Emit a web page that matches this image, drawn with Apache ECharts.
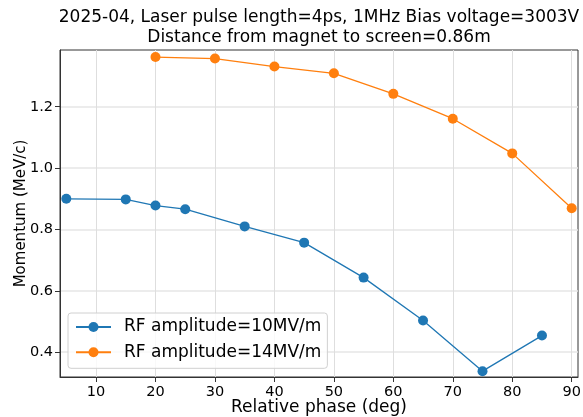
<!DOCTYPE html>
<html>
<head>
<meta charset="utf-8">
<script src="https://cdn.jsdelivr.net/npm/echarts@6/dist/echarts.min.js"></script>
<style>
  html, body {margin: 0; padding: 0; background: #fff;}
  #chart {width: 583px; height: 417px;}
</style>
</head>
<body>
<div id="chart"></div>
<script>
const phase10 = [5, 15, 20, 25, 35, 45, 55, 65, 75, 85]
const momentum10 = [0.900, 0.898, 0.878, 0.866, 0.810, 0.757, 0.643, 0.503, 0.338, 0.454]
const phase14 = [20, 30, 40, 50, 60, 70, 80, 90]
const momentum14 = [1.362, 1.357, 1.331, 1.309, 1.242, 1.161, 1.048, 0.869]
const xTicks = [10, 20, 30, 40, 50, 60, 70, 80, 90]
const yTicks = [0.4, 0.6, 0.8, 1.0, 1.2]

const font = 'DejaVu Sans'
const zip = (xs, ys) => xs.map((x, i) => [x, ys[i]])

const chart = echarts.init(document.getElementById('chart'))
chart.setOption({
  backgroundColor: '#fff',
  animation: false,
  title: {
    text: '2025-04, Laser pulse length=4ps, 1MHz Bias voltage=3003V\nDistance from magnet to screen=0.86m',
    left: 319,
    top: 8,
    textAlign: 'center',
    padding: 0,
    textStyle: {fontFamily: font, fontSize: 17, fontWeight: 'normal', color: '#000', lineHeight: 20}
  },
  grid: {
    left: 60, right: 5, top: 50, bottom: 40,
    outerBoundsMode: 'none',
    containLabel: false,
    show: true, borderColor: '#333', borderWidth: 1
  },
  legend: {
    orient: 'vertical',
    left: 68,
    top: 313,
    padding: [5.5, 6, 7.5, 7],
    itemWidth: 35,
    itemHeight: 12.5,
    itemGap: 8.3,
    backgroundColor: 'rgba(255,255,255,0.8)',
    borderColor: '#d0d0d0',
    borderWidth: 1,
    borderRadius: 3,
    textStyle: {fontFamily: font, fontSize: 17, color: '#000', lineHeight: 17, padding: [0, 0, 0, 8]}
  },
  xAxis: {
    type: 'value',
    min: 3.94,
    max: 91.06,
    name: 'Relative phase (deg)',
    nameLocation: 'middle',
    nameGap: 22,
    nameMoveOverlap: false,
    nameTextStyle: {fontFamily: font, fontSize: 17, color: '#000'},
    axisLine: {show: true, lineStyle: {color: '#333', width: 1}},
    axisTick: {show: true, inside: false, length: 5, customValues: xTicks, lineStyle: {color: '#333'}},
    axisLabel: {customValues: xTicks, margin: 8, fontFamily: font, fontSize: 14.5, color: '#000'},
    splitLine: {show: true, lineStyle: {color: '#dedede', width: 1}}
  },
  yAxis: {
    type: 'value',
    min: 0.319,
    max: 1.385,
    name: 'Momentum (MeV/c)',
    nameLocation: 'middle',
    nameGap: 31,
    nameMoveOverlap: false,
    nameTextStyle: {fontFamily: font, fontSize: 15, color: '#000'},
    axisLine: {show: true, lineStyle: {color: '#333', width: 1}},
    axisTick: {show: true, inside: false, length: 5, customValues: yTicks, lineStyle: {color: '#333'}},
    axisLabel: {
      customValues: yTicks, margin: 7, fontFamily: font, fontSize: 14.5, color: '#000',
      formatter: v => v.toFixed(1)
    },
    splitLine: {show: true, lineStyle: {color: '#e6e6e6', width: 1.5}}
  },
  series: [
    {
      name: 'RF amplitude=10MV/m',
      type: 'line',
      data: zip(phase10, momentum10),
      symbol: 'circle',
      symbolSize: 10,
      color: '#1f77b4',
      lineStyle: {width: 1.3, color: '#1f77b4'},
      itemStyle: {color: '#1f77b4'}
    },
    {
      name: 'RF amplitude=14MV/m',
      type: 'line',
      data: zip(phase14, momentum14),
      symbol: 'circle',
      symbolSize: 10,
      color: '#ff7f0e',
      lineStyle: {width: 1.3, color: '#ff7f0e'},
      itemStyle: {color: '#ff7f0e'}
    }
  ]
})
</script>
</body>
</html>
